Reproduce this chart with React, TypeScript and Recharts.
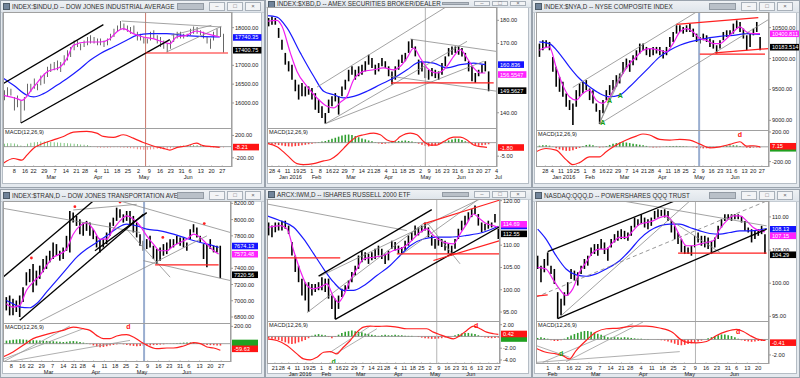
import React from "react";
import { Bar, Cell, ComposedChart, Line, ReferenceDot, ReferenceLine, XAxis, YAxis } from "recharts";

type Pt = [number, number];
type Seg = [number, number, number, number];
type Tag = [number, string, string];
type Note = [number, number, string, string];

const FONT = "'Liberation Sans', Arial, sans-serif";

// date axis labels
const FEB_JUN_DAYS = ["8", "16", "22", "29", "7", "14", "21", "28", "4", "11", "18", "25", "2", "9", "16", "23", "31", "6", "13", "20", "27"];
const FEB_JUN_MONTHS = ["Mar", "Apr", "May", "Jun"];
const DEC_JUL_DAYS = ["28", "4", "11", "19", "25", "1", "8", "16", "22", "29", "7", "14", "21", "28", "4", "11", "18", "25", "2", "9", "16", "23", "31", "6", "13", "20", "27", "4"];
const DEC_JUL_MONTHS = ["Jan 2016", "Feb", "Mar", "Apr", "May", "Jun", "Jul"];
const QQQ_DAYS = ["1", "8", "16", "22", "29", "7", "14", "21", "28", "4", "11", "18", "25", "2", "9", "16", "23", "31", "6", "13", "20"];
const QQQ_MONTHS = ["Feb", "Mar", "Apr", "May", "Jun"];

/* ---- $INDU ---- */
const INDU_HI = [16340, 16420, 16380, 16160, 16200, 16070, 16160, 16510, 16510, 16650, 16510, 16730, 16780, 16960, 17040, 17090, 17130, 17090, 17270, 17400, 17490, 17660, 17660, 17580, 17660, 17750, 17800, 17750, 17710, 17710, 17660, 17710, 17840, 17970, 18060, 18180, 18110, 18060, 18020, 18060, 17890, 17840, 17750, 17710, 17890, 17930, 17800, 17750, 17660, 17580, 17660, 17840, 17890, 17890, 17840, 17840, 17970, 18030, 18020, 17930, 17890, 17750, 17710, 17890, 17970, 18020, 17840];
const INDU_LO = [16070, 16160, 16200, 15800, 15890, 15470, 15800, 16200, 16290, 16380, 16340, 16470, 16510, 16690, 16820, 16870, 16870, 16820, 17000, 17130, 17220, 17400, 17490, 17400, 17490, 17530, 17580, 17580, 17530, 17530, 17490, 17530, 17660, 17750, 17890, 17970, 17930, 17890, 17840, 17840, 17660, 17660, 17580, 17580, 17660, 17710, 17580, 17490, 17440, 17350, 17440, 17620, 17710, 17710, 17710, 17750, 17800, 17840, 17840, 17800, 17710, 17580, 17440, 17660, 17750, 17750, 17340];
const INDU_PINK: Pt[] = [[1, 16204], [5, 16115], [6.5, 16071], [10, 16425], [14, 16823], [18, 16956], [20, 17177], [22, 17531], [26, 17619], [30, 17619], [33, 17708], [35, 17885], [37, 17973], [40, 17841], [43, 17752], [46, 17708], [49, 17619], [51, 17575], [53, 17752], [56, 17796], [59, 17911], [62, 17841], [64, 17796], [66, 17752]];
const INDU_BLUE: Pt[] = [[1, 16650], [4, 16470], [8, 16204], [10, 16160], [13, 16248], [17, 16469], [20, 16646], [24, 16911], [27, 17133], [30, 17310], [34, 17487], [38, 17664], [41, 17796], [45, 17841], [50, 17841], [55, 17796], [60, 17770], [66, 17752]];
const INDU_MACD: Pt[] = [[1, -291], [4, -212], [6.5, -242], [8, -152], [10, -30], [13, 61], [16, 121], [19, 182], [22, 261], [26, 273], [29, 242], [31, 182], [34, 164], [37, 212], [40, 152], [43, 73], [46, 12], [49, -30], [51, -61], [53, -18], [56, 12], [59, 61], [61, 18], [64, 0], [66, -12]];
const INDU_HIST = [50, 60, 60, 55, 40, 20, 10, 50, 70, 80, 85, 90, 90, 90, 85, 80, 75, 70, 65, 60, 55, 50, 45, 40, 35, 30, 10, -5, -15, -20, -20, -20, -15, -10, -10, -15, -20, -25, -30, -35, -45, -50, -55, -55, -50, -45, -40, -40, -45, -40, -30, -15, 5, 15, 20, 25, 25, 30, 30, 25, 20, 5, -10, -15, -10, -10, -15];
const INDU_TICKS = [18000, 17000, 16500, 16000];
const INDU_MACD_TICKS = [200, -200];
const INDU_DAY_POS = [4.2, 7.43, 10.01, 13.23, 16.46, 19.68, 22.91, 25.49, 28.71, 31.94, 35.17, 38.39, 41.61, 44.84, 48.06, 51.29, 54.51, 57.09, 60.32, 63.54, 66.77];
const INDU_MONTH_POS = [13.88, 28.07, 41.61, 55.16];
const INDU_BLACK: Seg[] = [[0.8, 16513, 31, 18080], [6.2, 15469, 51, 17681]];
const INDU_GREY: Seg[] = [[36.5, 18177, 66.5, 18018], [50, 17354, 66.5, 18035], [51.5, 17796, 63.5, 18062]];
const INDU_RED: Seg[] = [[43.7, 17327, 68.5, 17327]];
const INDU_TAGS: Tag[] = [[17740.35, "17740.35", "blue"], [17400.75, "17400.75", "black"]];
const INDU_MACD_TAGS: Tag[] = [[-8.21, "-8.21", "red"]];

/* ---- $XBD ---- */
const XBD_HI = [181, 181.7, 181, 176.7, 171.6, 165.9, 162.3, 160.8, 154.3, 152.2, 152.9, 151.4, 151.4, 150.7, 148.5, 145.7, 142.8, 139.9, 145.7, 147.1, 148.5, 147.1, 151.4, 154.3, 158.6, 160.1, 158.6, 160.1, 160.8, 162.3, 165.1, 163.7, 160.8, 161.5, 163.7, 162.3, 160.1, 157.9, 160.1, 163, 165.1, 165.9, 170.9, 171.9, 168.7, 163, 162.3, 160.1, 158.6, 159.4, 158.6, 157.9, 161.5, 164.4, 168, 168.7, 168.7, 168.7, 168, 165.9, 162.3, 160.1, 157.2, 158.6, 160.8, 162.3, 157.9];
const XBD_LO = [177.4, 178.1, 178.1, 172.4, 167.3, 160.8, 157.9, 154.3, 149.3, 145.7, 147.1, 147.1, 147.8, 145.7, 141.3, 139.9, 137.7, 135.3, 139.9, 142.8, 144.9, 139.2, 147.1, 150, 153.6, 156.5, 154.3, 155.8, 156.5, 157.9, 160.8, 159.4, 156.5, 157.9, 160.1, 159.4, 155.8, 152.2, 154.3, 158.6, 161.5, 162.3, 165.9, 168, 164.4, 156.5, 157.9, 155, 154.3, 155.8, 155, 154.3, 156.5, 160.1, 164.4, 165.1, 165.9, 165.1, 164.4, 162.3, 157.9, 153.6, 152.9, 155.8, 157.2, 157.9, 149.3];
const XBD_PINK: Pt[] = [[0, 179.6], [3, 180], [4.5, 177.4], [7, 165.9], [9, 157.9], [12, 151.4], [15, 146.4], [18, 142.8], [20, 142.1], [22, 144.5], [24, 147.1], [26, 154.3], [29, 157.9], [32, 158.6], [35, 159.4], [38, 158.6], [40, 160.1], [42, 163.7], [44, 168], [46, 163.7], [48, 159.4], [51, 157.2], [54, 160.1], [56, 164.4], [58, 167.3], [60, 163.7], [62, 159.4], [64, 157.2], [65.5, 157.2]];
const XBD_BLUE: Pt[] = [[0, 182], [3, 181.4], [6, 176.7], [10, 165.9], [14, 155.8], [17, 149.3], [20, 147.8], [23, 146.4], [26, 147.1], [30, 149.3], [34, 152.2], [38, 155], [42, 158.6], [46, 162], [50, 161.5], [54, 159.4], [58, 160.8], [62, 161.5], [65.5, 160.8]];
const XBD_MACD: Pt[] = [[0, -0.25], [3, -1.5], [6, -4.6], [9, -7.75], [11, -8.1], [14, -7.75], [17, -6.75], [19, -6.25], [21, -4.6], [23, -2.1], [25, 0.4], [27, 2.25], [29, 2.9], [32, 3.5], [34, 2.9], [36, 1], [38, 0.4], [40, 2.25], [43, 3.5], [45, 2.9], [47, 0.4], [49, -0.9], [51, -0.9], [53, 0.4], [56, 2], [58, 2], [60, 1], [62, -0.9], [64, -1.5], [66, -1.75]];
const XBD_HIST = [-0.4, -0.5, -0.7, -0.9, -1.1, -1.3, -1.4, -1.4, -1.3, -1.2, -1.0, -0.8, -0.6, -0.4, -0.2, 0.2, 0.4, 0.6, 1.0, 1.4, 1.8, 2.2, 2.6, 2.9, 3.0, 2.8, 2.4, 2.0, 1.5, 1.2, 0.8, 0.5, 0.2, -0.3, -0.5, -0.4, -0.2, 0.3, 0.5, 0.6, 0.7, 0.8, 0.6, 0.4, 0.2, -0.4, -0.8, -1.2, -1.4, -1.2, -1.0, -0.6, -0.2, 0.4, 0.8, 1.2, 1.5, 1.4, 1.0, 0.5, -0.2, -0.6, -1.0, -1.2, -1.0, -0.8, -0.6];
const XBD_TICKS = [180, 170, 140];
const XBD_MACD_TICKS = [-5];
const XBD_DAY_POS = [1.5, 3.57, 6.16, 8.75, 10.82, 13.41, 16.0, 18.59, 20.67, 23.26, 25.85, 28.44, 31.03, 33.1, 35.69, 38.28, 40.87, 43.46, 46.05, 48.64, 51.23, 53.82, 56.41, 58.48, 61.07, 63.66, 66.25, 68.84];
const XBD_MONTH_POS = [3.57, 13.41, 23.77, 35.17, 46.05, 56.93, 68.32];
const XBD_GREY: Seg[] = [[15, 151.1, 54, 186.06], [17.5, 135.27, 60, 170.9], [17.5, 135.27, 65, 162.25], [43, 171.9, 70, 166.3], [37, 155.8, 69, 149.3]];
const XBD_RED: Seg[] = [[37.2, 152.9, 68, 152.9]];
const XBD_TAGS: Tag[] = [[160.836, "160.836", "blue"], [156.5547, "156.5547", "pink"], [149.5627, "149.5627", "black"]];
const XBD_MACD_TAGS: Tag[] = [[-1.8, "-1.80", "red"]];

/* ---- $NYA ---- */
const NYA_HI = [10242, 10296, 10296, 10269, 10027, 9866, 9704, 9624, 9436, 9328, 9274, 9489, 9597, 9624, 9651, 9516, 9489, 9274, 9167, 9328, 9489, 9570, 9651, 9731, 9758, 9946, 10000, 9973, 10054, 10134, 10242, 10242, 10188, 10161, 10188, 10188, 10188, 10134, 10188, 10349, 10430, 10538, 10538, 10511, 10538, 10565, 10484, 10403, 10349, 10403, 10376, 10323, 10296, 10215, 10296, 10430, 10457, 10457, 10565, 10618, 10592, 10484, 10376, 10403, 10484, 10592, 10349];
const NYA_LO = [10027, 10134, 10188, 10134, 9785, 9543, 9462, 9382, 9220, 9167, 8925, 9220, 9382, 9436, 9489, 9328, 9274, 9140, 8941, 9113, 9328, 9409, 9489, 9543, 9597, 9758, 9839, 9785, 9893, 9973, 10081, 10134, 10054, 10027, 10054, 10081, 10054, 10000, 10054, 10188, 10269, 10403, 10430, 10403, 10430, 10430, 10349, 10269, 10242, 10296, 10269, 10188, 10161, 10081, 10161, 10296, 10349, 10376, 10403, 10484, 10430, 10323, 10134, 10188, 10376, 10430, 10134];
const NYA_PINK: Pt[] = [[2, 10134], [5, 10188], [7, 9866], [9, 9570], [11, 9382], [13, 9328], [15, 9436], [17, 9489], [19, 9328], [21, 9274], [23, 9382], [25, 9570], [27, 9758], [29, 9919], [31, 10027], [33, 10134], [35, 10161], [38, 10134], [40, 10108], [42, 10242], [44, 10430], [46, 10484], [48, 10430], [50, 10323], [52, 10296], [54, 10242], [56, 10242], [58, 10323], [60, 10430], [62, 10511], [64, 10430], [66, 10403], [68, 10403]];
const NYA_BLUE: Pt[] = [[2, 10269], [5, 10242], [8, 10081], [11, 9866], [14, 9677], [17, 9543], [20, 9436], [23, 9382], [26, 9409], [29, 9543], [32, 9704], [35, 9866], [38, 10027], [41, 10134], [44, 10215], [47, 10269], [50, 10306], [53, 10339], [56, 10360], [60, 10376], [64, 10403], [68, 10392]];
const NYA_MACD: Pt[] = [[1, -68], [4, -23], [7, -45], [10, -173], [12, -241], [14, -214], [17, -136], [20, -136], [22, -68], [25, 23], [28, 91], [31, 145], [33, 173], [35, 159], [38, 100], [41, 91], [44, 100], [47, 91], [50, 36], [53, -14], [56, 0], [59, 32], [62, 68], [64, 9], [66, 14], [68, 0]];
const NYA_HIST = [15, 20, 20, 15, 5, -20, -35, -45, -55, -55, -45, -30, -15, 10, 25, 30, 20, 5, -10, -5, 10, 25, 40, 50, 58, 60, 58, 50, 42, 35, 28, 20, 12, -5, -10, -8, -5, 5, 8, 10, 12, 12, 10, 8, 5, 2, -5, -12, -18, -22, -20, -15, -10, -5, 5, 10, 15, 18, 20, 18, 12, -5, -12, -15, -10, -8, -10];
const NYA_TICKS = [10500, 10000, 9500, 9000];
const NYA_MACD_TICKS = [200, -200];
const NYA_DAY_POS = [3.8, 5.87, 8.46, 11.05, 13.12, 15.71, 18.3, 20.89, 22.97, 25.56, 28.15, 30.74, 33.33, 35.4, 37.99, 40.58, 43.17, 45.76, 48.35, 50.94, 53.53, 56.12, 58.71, 60.78, 63.37, 65.96, 68.55];
const NYA_MONTH_POS = [5.87, 15.71, 26.07, 37.47, 48.35, 59.23];
const NYA_GREY: Seg[] = [[12, 9532, 49, 10753], [20, 8941, 70.5, 10629], [20, 8952, 28, 9893], [20, 8952, 26.5, 9785]];
const NYA_RED: Seg[] = [[43, 10554, 67.5, 10661], [50, 10070, 69.5, 10070], [54.5, 10091, 70.5, 10161]];
const NYA_NOTES: Note[] = [[21, 8962, "A", "green"], [23, 9317, "A", "green"], [26.2, 9409, "A", "green"]];
const NYA_MACD_NOTES: Note[] = [[62, 168, "d", "red"]];
const NYA_TAGS: Tag[] = [[10400.811, "10400.811", "pink"], [10183.514, "10183.514", "black"]];
const NYA_MACD_TAGS: Tag[] = [[-20, "", "green"], [7.15, "7.15", "red"]];

/* ---- $TRAN ---- */
const TRAN_HI = [7045, 7065, 7024, 7004, 7065, 7167, 7351, 7392, 7453, 7371, 7433, 7514, 7555, 7616, 7718, 7698, 7616, 7657, 7800, 8106, 8086, 8045, 8004, 7963, 7984, 7963, 7882, 7800, 7759, 7759, 7841, 7963, 8024, 8147, 8127, 8065, 8106, 8106, 8045, 7963, 7820, 7739, 7759, 7800, 7678, 7637, 7657, 7698, 7718, 7759, 7759, 7800, 7780, 7780, 7718, 7882, 7943, 7902, 7800, 7698, 7698, 7759, 7678, 7678, 7678];
const TRAN_LO = [6881, 6820, 6820, 6861, 6800, 6984, 7188, 7229, 7106, 7188, 7269, 7351, 7392, 7473, 7514, 7555, 7494, 7514, 7616, 7596, 7963, 7922, 7820, 7800, 7861, 7800, 7759, 7657, 7596, 7657, 7698, 7800, 7922, 7984, 8024, 7963, 7984, 7943, 7841, 7780, 7678, 7616, 7637, 7657, 7514, 7453, 7494, 7555, 7575, 7637, 7657, 7698, 7678, 7657, 7616, 7759, 7841, 7780, 7718, 7514, 7412, 7637, 7596, 7596, 7278];
const TRAN_PINK: Pt[] = [[2, 6963], [4, 6922], [6, 6943], [8, 7126], [10, 7229], [12, 7310], [14, 7433], [16, 7535], [18, 7575], [20, 7637], [22, 7820], [24, 7922], [26, 7963], [28, 7882], [30, 7759], [32, 7759], [34, 7882], [36, 7984], [38, 8045], [40, 8004], [42, 7922], [44, 7800], [46, 7698], [48, 7616], [50, 7616], [52, 7678], [54, 7718], [56, 7759], [58, 7820], [60, 7780], [62, 7698], [64, 7616], [65.5, 7575]];
const TRAN_BLUE: Pt[] = [[2, 7004], [4, 6963], [6, 6922], [9, 6914], [11, 6963], [14, 7106], [17, 7249], [20, 7392], [23, 7535], [26, 7637], [29, 7718], [32, 7800], [35, 7890], [38, 7943], [41, 7922], [44, 7882], [48, 7861], [52, 7820], [56, 7767], [60, 7718], [64, 7678], [65.5, 7657]];
const TRAN_MACD: Pt[] = [[1, -154], [4, -96], [7, -19], [10, 58], [13, 96], [16, 127], [19, 154], [22, 192], [25, 173], [27, 154], [29, 96], [31, 58], [33, 58], [35, 89], [38, 104], [40, 77], [42, 27], [44, -19], [47, -58], [50, -50], [52, -50], [55, -27], [58, 12], [60, 0], [62, -38], [64, -50], [66, -77]];
const TRAN_HIST = [35, 40, 45, 48, 50, 48, 45, 42, 40, 38, 36, 34, 32, 30, 28, 25, 22, 20, 22, 28, 30, 26, 20, 12, 5, -8, -20, -32, -40, -38, -30, -22, -15, -8, -4, -8, -14, -20, -26, -30, -28, -25, -22, -20, -17, -14, -11, -8, -5, -2, 3, 6, 9, 12, 14, 14, 11, 6, -4, -9, -14, -17, -18, -20, -22];
const TRAN_TICKS = [8200, 8000, 7800, 7400, 7200, 7000, 6800];
const TRAN_MACD_TICKS = [200];
const TRAN_DAY_POS = [3.5, 6.74, 9.32, 12.56, 15.79, 19.03, 22.26, 24.85, 28.09, 31.32, 34.56, 37.79, 41.03, 44.27, 47.5, 50.73, 53.97, 56.56, 59.79, 63.03, 66.26];
const TRAN_MONTH_POS = [13.21, 27.44, 41.03, 54.62];
const TRAN_BLACK: Seg[] = [[1, 7290, 28, 8229], [6, 6759, 43, 8065], [28.5, 7616, 44, 8086]];
const TRAN_GREY: Seg[] = [[1, 8139, 42, 7841], [36, 8229, 69, 7841], [43, 7494, 69, 7249], [38, 7882, 51, 7290], [22, 8118, 41, 8188], [12, 6747, 62, 7800]];
const TRAN_RED: Seg[] = [[46.5, 7441, 65.5, 7441]];
const TRAN_DOTS: Pt[] = [[9.5, 7527], [22.5, 8159], [36, 8216], [48.8, 7780], [61.2, 7951]];
const TRAN_MACD_GREY: Seg[] = [[1, -212, 21, 204], [1, -181, 25, 173], [1, -219, 39, 38]];
const TRAN_MACD_NOTES: Note[] = [[38.5, 200, "d", "red"]];
const TRAN_TAGS: Tag[] = [[7674.13, "7674.13", "blue"], [7573.48, "7573.48", "pink"], [7320.56, "7320.56", "black"]];
const TRAN_MACD_TAGS: Tag[] = [[8, "", "green"], [-59.63, "-59.63", "red"]];

/* ---- IWM ---- */
const IWM_HI = [115.1, 114.4, 115.1, 115.1, 115.5, 115.5, 114.4, 110.7, 107.7, 105.4, 102.5, 101.7, 101.7, 101.3, 101.3, 101.7, 102.8, 102.5, 102.5, 98.7, 98, 98.7, 100.2, 101, 102.1, 104, 105.4, 107.7, 108.8, 108.4, 108.1, 108.4, 109.2, 109.9, 109.2, 108.1, 108.8, 111, 110.7, 109.9, 109.6, 111, 112.2, 112.9, 114.4, 114, 114.4, 115.1, 114, 112.2, 111.4, 111.8, 111.4, 111, 110.3, 109.9, 111.4, 113.7, 115.5, 116.6, 117.4, 118.1, 118.9, 117, 115.1, 114.8, 115.5, 115.1, 117, 113.7];
const IWM_LO = [112.2, 111.8, 112.9, 113.3, 113.3, 113.7, 112.5, 107.7, 104, 101.7, 98.7, 97.6, 95, 98.7, 99.5, 99.9, 99.9, 99.5, 98, 95.7, 93.4, 95.7, 98.4, 99.5, 100.2, 101.7, 103.2, 104.7, 106.2, 106.6, 105.8, 106.6, 106.9, 107.7, 106.9, 105.8, 106.6, 109.2, 108.8, 108.1, 108.1, 108.8, 109.9, 111, 112.2, 112.2, 112.9, 113.3, 111.8, 109.9, 109.2, 109.9, 109.6, 108.8, 108.1, 107.7, 109.2, 111.4, 113.3, 114.4, 115.5, 116.3, 117, 114.4, 112.9, 113.3, 113.7, 114, 115.1, 111.4];
const IWM_PINK: Pt[] = [[0.5, 114.03], [4, 114.4], [6, 113.66], [8, 108.8], [10, 104.3], [12, 101], [14, 100.2], [16, 100.6], [18, 101.3], [20, 98.4], [21.5, 97.2], [23, 98.7], [25, 102.1], [27, 104.7], [29, 106.9], [32, 107.3], [35, 107.7], [38, 108.8], [41, 109.55], [43, 110.7], [46, 112.9], [48, 113.66], [50, 112.2], [53, 110.7], [56, 110.3], [58, 112.5], [60, 114.8], [62, 117], [64, 115.9], [66, 114.8], [68, 114.4], [69.5, 114.03]];
const IWM_BLUE: Pt[] = [[0, 116.6], [4, 115.5], [8, 114.03], [11, 111.4], [14, 108.1], [17, 104.7], [20, 101.7], [23, 99.85], [26, 99.85], [29, 100.9], [33, 103.2], [37, 105.45], [40, 107.7], [43, 109.9], [47, 111.4], [51, 111.8], [55, 111.8], [60, 112.2], [65, 112.9], [69.5, 114.25]];
const IWM_MACD: Pt[] = [[0, -0.4], [3, -0.69], [6, -1.54], [9, -2.97], [11, -3.83], [13, -4], [15, -3.54], [17, -2.69], [19, -2.57], [21, -2.97], [22.5, -2.11], [25, -0.69], [27, 0.74], [29, 1.6], [31, 1.77], [33, 1.71], [36, 1.77], [39, 1.6], [42, 1.31], [45, 1.31], [48, 1.31], [50, 0.74], [52, 0.29], [54, -0.11], [56, -0.4], [58, 0.17], [60, 1.03], [62, 1.77], [64, 1.31], [66, 0.74], [68, 0.46], [69.5, 0.34]];
const IWM_HIST = [-0.3, -0.4, -0.5, -0.6, -0.8, -1.0, -1.2, -1.3, -1.2, -1.0, -0.8, -0.6, -0.3, 0.1, 0.3, 0.4, 0.3, 0.2, -0.1, -0.3, -0.1, 0.3, 0.6, 0.8, 0.9, 1.0, 0.9, 0.8, 0.7, 0.5, 0.4, 0.3, 0.2, 0.1, 0.2, 0.3, 0.2, 0.2, 0.3, 0.2, 0.2, 0.1, 0.1, 0.1, 0, -0.1, -0.2, -0.3, -0.35, -0.4, -0.4, -0.35, -0.3, -0.2, -0.1, 0, 0.2, 0.4, 0.5, 0.6, 0.6, 0.5, 0.4, 0.2, -0.1, -0.2, -0.25, -0.3, -0.25, -0.2];
const IWM_TICKS = [120, 110, 105, 100, 95];
const IWM_MACD_TICKS = [2, -2, -4];
const IWM_DAY_POS = [2.38, 4.45, 6.52, 9.11, 11.7, 13.77, 16.36, 18.95, 21.54, 23.62, 26.21, 28.8, 31.39, 33.98, 36.05, 38.64, 41.23, 43.82, 46.41, 49.0, 51.59, 54.18, 56.77, 59.36, 61.43, 64.02, 66.61, 69.2];
const IWM_MONTH_POS = [6.52, 16.36, 26.72, 38.12, 49.0, 59.88];
const IWM_BLACK: Seg[] = [[15.5, 103.06, 49.5, 117.99], [20.5, 93.36, 70, 114.18]];
const IWM_GREY: Seg[] = [[0, 119.25, 42, 113.28], [12, 94.85, 47.5, 115.15], [16, 103.06, 64, 120.37], [40, 107.69, 63, 120], [48, 115.15, 58, 105.82]];
const IWM_RED: Seg[] = [[0, 107.16, 22, 107.16], [47, 114.78, 70, 120.15], [50, 106.57, 70, 111.04], [39, 108.06, 70, 108.06]];
const IWM_MACD_GREY: Seg[] = [[19, -2.69, 31, 1.77], [20.5, -2.97, 33, 1.31]];
const IWM_MACD_NOTES: Note[] = [[20, -4.2, "d", "green"], [62.8, 1.89, "d", "red"]];
const IWM_TAGS: Tag[] = [[114.31, "", "blue"], [114.69, "114.69", "pink"], [112.55, "112.55", "black"]];
const IWM_MACD_TAGS: Tag[] = [[-0.35, "", "green"], [0.42, "0.42", "red"]];

/* ---- QQQ ---- */
const QQQ_HI = [104.15, 102.65, 103.65, 104.65, 102.65, 102.15, 98.65, 97.65, 98.65, 100.15, 102.15, 101.9, 101.65, 102.65, 103.65, 104.15, 105.4, 105.9, 105.9, 106.65, 106.15, 105.4, 106.65, 107.4, 107.9, 108.15, 107.9, 107.65, 108.65, 109.9, 109.65, 110.4, 109.9, 109.65, 109.9, 110.9, 111.15, 111.05, 111.15, 110.9, 109.4, 108.65, 107.65, 106.65, 105.65, 105.4, 105.65, 107.15, 107.65, 107.15, 107.15, 106.9, 106.4, 106.9, 108.65, 109.65, 110.4, 110.4, 110.4, 110.4, 110.4, 110.15, 109.4, 108.4, 108.15, 107.9, 108.15, 108.65, 107.4];
const QQQ_LO = [102.15, 100.15, 101.65, 102.65, 101.4, 99.9, 94.65, 95.15, 96.65, 98.15, 100.65, 100.4, 99.65, 101.4, 102.15, 102.65, 104.15, 104.4, 104.15, 105.15, 104.4, 103.4, 105.4, 106.15, 106.4, 106.65, 106.65, 106.4, 107.15, 108.4, 108.65, 108.9, 108.4, 108.15, 108.65, 109.65, 109.9, 110.15, 109.9, 109.4, 107.65, 106.65, 105.9, 104.65, 104.4, 104.4, 104.15, 105.4, 106.15, 105.65, 105.4, 105.15, 104.4, 105.4, 106.65, 108.4, 109.4, 109.65, 109.4, 109.65, 109.65, 109.15, 107.9, 107.65, 106.15, 106.65, 107.15, 107.4, 104.4];
const QQQ_PINK: Pt[] = [[1.5, 102.4], [4, 102.15], [6, 100.65], [8, 99.15], [10, 98.15], [12, 99.15], [14, 101.65], [16, 103.15], [18, 104.65], [20, 105.15], [22, 105.15], [24, 106.15], [26, 106.9], [28, 106.9], [30, 107.9], [32, 108.9], [34, 109.15], [36, 109.4], [38, 109.9], [40, 110.15], [42, 109.15], [44, 107.15], [46, 105.65], [48, 105.65], [50, 105.9], [52, 106.15], [54, 106.4], [56, 108.15], [58, 109.4], [60, 110.15], [62, 110.15], [64, 109.4], [66, 108.4], [68, 107.9], [69.5, 107.75]];
const QQQ_BLUE: Pt[] = [[1.5, 108.15], [4, 106.65], [7, 104.15], [10, 102.15], [13, 101.25], [16, 101.05], [19, 101.4], [22, 102.15], [26, 103.4], [29, 104.9], [32, 106.65], [35, 107.9], [38, 108.65], [41, 108.9], [44, 108.9], [47, 108.4], [50, 107.9], [53, 107.5], [56, 107.4], [59, 107.65], [62, 107.9], [65, 107.9], [68, 108.05], [70, 108.25]];
const QQQ_MACD: Pt[] = [[1, -1.13], [4, -1.65], [7, -1.87], [9, -2.09], [11, -2.52], [13, -1.43], [16, -0.13], [19, 0.96], [22, 1.39], [26, 1.48], [30, 1.74], [34, 1.74], [38, 1.48], [42, 0.87], [44, 0.09], [46, -0.35], [49, -0.43], [52, -0.26], [55, 0.52], [58, 1.04], [61, 1.3], [63, 1.04], [65, 0.52], [67, 0.09], [69.5, -0.13]];
const QQQ_HIST = [0.2, 0.3, 0.2, 0.1, -0.1, -0.2, -0.2, -0.1, 0.1, 0.3, 0.5, 0.7, 0.85, 1.0, 1.1, 1.1, 1.0, 0.9, 0.75, 0.6, 0.45, 0.3, 0.25, 0.3, 0.3, 0.25, 0.3, 0.25, 0.2, 0.15, 0.1, 0.1, 0.05, 0.05, 0, 0, -0.05, -0.1, -0.15, -0.25, -0.4, -0.55, -0.7, -0.75, -0.7, -0.6, -0.5, -0.4, -0.25, -0.15, 0, 0.15, 0.3, 0.45, 0.55, 0.65, 0.65, 0.55, 0.45, 0.3, 0.1, -0.1, -0.2, -0.25, -0.3, -0.25, -0.2, -0.2, -0.15];
const QQQ_TICKS = [110, 105, 100, 95];
const QQQ_MACD_TICKS = [-2];
const QQQ_DAY_POS = [4.5, 7.75, 10.99, 13.59, 16.83, 20.08, 23.32, 26.57, 29.16, 32.41, 35.65, 38.9, 42.14, 45.39, 48.63, 51.88, 55.12, 58.37, 60.96, 64.21, 67.45];
const QQQ_MONTH_POS = [4.5, 17.48, 31.76, 45.39, 59.02];
const QQQ_BLACK: Seg[] = [[4.5, 104.75, 42.5, 112.4], [7.5, 94.65, 70, 108.15]];
const QQQ_GREY: Seg[] = [[7.5, 94.65, 47, 112.4], [27, 112.4, 70, 108.65], [40, 109.9, 56, 104.65]];
const QQQ_DASH: Seg[] = [[1, 97.9, 70, 112.4]];
const QQQ_RED: Seg[] = [[43.5, 104.55, 70, 104.55], [1, 98.05, 4.5, 98.25]];
const QQQ_MACD_GREY: Seg[] = [[1, -2.96, 44, -1.57], [10, -2.87, 33, 2.26], [3, -2.96, 30, 2.04], [1, -0.78, 11, -2.3]];
const QQQ_MACD_NOTES: Note[] = [[8.5, -1.83, "d", "green"], [61.5, 1.04, "d", "red"]];
const QQQ_TAGS: Tag[] = [[108.13, "108.13", "blue"], [107.15, "107.15", "pink"], [104.29, "104.29", "black"]];
const QQQ_MACD_TAGS: Tag[] = [[-0.41, "-0.41", "red"]];

const PINK = "#f01ef0";
const BLUE = "#1a1aff";
const RED = "#ff2020";
const GREY = "#8c8c8c";

const TAG_COLORS: Record<string, string> = {
  blue: "#1414ff",
  pink: "#ff22ff",
  black: "#000000",
  red: "#ff1414",
  green: "#20a020",
};
const NOTE_COLORS: Record<string, string> = { green: "#10a010", red: "#ff1010" };

const W = 266;

const PANELS = [
  {
    title: "INDEX:$INDU,D -- DOW JONES INDUSTRIAL AVERAGE",
    frame: [0, 0, 265, 188], ox: 0, l: 3, r: 232, top: 12, mid: 128, bottom: 167,
    xDomain: [0.8, 69.7], priceDomain: [15336, 18416], macdDomain: [-364, 333], barStart: 1.2,
    hi: INDU_HI, lo: INDU_LO, pink: INDU_PINK, blue: INDU_BLUE, macd: INDU_MACD, hist: INDU_HIST,
    priceTicks: INDU_TICKS, macdTicks: INDU_MACD_TICKS,
    days: FEB_JUN_DAYS, dayPos: INDU_DAY_POS, months: FEB_JUN_MONTHS, monthPos: INDU_MONTH_POS,
    black: INDU_BLACK, grey: INDU_GREY, red: INDU_RED, dash: [] as Seg[], macdGrey: [] as Seg[],
    vline: 43.7, vColor: "#c9786c", vWidth: 1,
    tags: INDU_TAGS, macdTags: INDU_MACD_TAGS, dots: [] as Pt[], notes: [] as Note[], macdNotes: [] as Note[],
  },
  {
    title: "INDEX:$XBD,D -- AMEX SECURITIES BROKER/DEALER",
    frame: [265, -1, 267, 189], ox: 267, l: 0, r: 230, top: 7, mid: 128, bottom: 167,
    xDomain: [0, 69], priceDomain: [133.4, 185.77], macdDomain: [-9, 5.4], barStart: 0.5,
    hi: XBD_HI, lo: XBD_LO, pink: XBD_PINK, blue: XBD_BLUE, macd: XBD_MACD, hist: XBD_HIST,
    priceTicks: XBD_TICKS, macdTicks: XBD_MACD_TICKS,
    days: DEC_JUL_DAYS, dayPos: XBD_DAY_POS, months: DEC_JUL_MONTHS, monthPos: XBD_MONTH_POS,
    black: [] as Seg[], grey: XBD_GREY, red: XBD_RED, dash: [] as Seg[], macdGrey: [] as Seg[],
    vline: 47.5, vColor: "#b4b4b4", vWidth: 1,
    tags: XBD_TAGS, macdTags: XBD_MACD_TAGS, dots: [] as Pt[], notes: [] as Note[], macdNotes: [] as Note[],
  },
  {
    title: "INDEX:$NYA,D -- NYSE COMPOSITE INDEX",
    frame: [532, 0, 268, 188], ox: 533, l: 3, r: 236, top: 12, mid: 130, bottom: 167,
    xDomain: [1, 70.7], priceDomain: [8844, 10753], macdDomain: [-273, 227], barStart: 2,
    hi: NYA_HI, lo: NYA_LO, pink: NYA_PINK, blue: NYA_BLUE, macd: NYA_MACD, hist: NYA_HIST,
    priceTicks: NYA_TICKS, macdTicks: NYA_MACD_TICKS,
    days: DEC_JUL_DAYS.slice(0, 27), dayPos: NYA_DAY_POS, months: DEC_JUL_MONTHS.slice(0, 6), monthPos: NYA_MONTH_POS,
    black: [] as Seg[], grey: NYA_GREY, red: NYA_RED, dash: [] as Seg[], macdGrey: [] as Seg[],
    vline: 49.8, vColor: "#9aaed0", vWidth: 2,
    tags: NYA_TAGS, macdTags: NYA_MACD_TAGS, dots: [] as Pt[], notes: NYA_NOTES, macdNotes: NYA_MACD_NOTES,
  },
  {
    title: "INDEX:$TRAN,D -- DOW JONES TRANSPORTATION AVE",
    frame: [0, 189, 265, 189], ox: 0, l: 3, r: 231, top: 201, mid: 323, bottom: 362,
    xDomain: [1, 69.2], priceDomain: [6726, 8229], macdDomain: [-212, 239], barStart: 2,
    hi: TRAN_HI, lo: TRAN_LO, pink: TRAN_PINK, blue: TRAN_BLUE, macd: TRAN_MACD, hist: TRAN_HIST,
    priceTicks: TRAN_TICKS, macdTicks: TRAN_MACD_TICKS,
    days: FEB_JUN_DAYS, dayPos: TRAN_DAY_POS, months: FEB_JUN_MONTHS, monthPos: TRAN_MONTH_POS,
    black: TRAN_BLACK, grey: TRAN_GREY, red: TRAN_RED, dash: [] as Seg[], macdGrey: TRAN_MACD_GREY,
    vline: 43.2, vColor: "#9aaed0", vWidth: 2,
    tags: TRAN_TAGS, macdTags: TRAN_MACD_TAGS, dots: TRAN_DOTS, notes: [] as Note[], macdNotes: TRAN_MACD_NOTES,
  },
  {
    title: "ARCX:IWM,D -- ISHARES RUSSELL 2000 ETF",
    frame: [265, 189, 267, 189], ox: 267, l: 0, r: 233, top: 199, mid: 321, bottom: 364,
    xDomain: [0, 70], priceDomain: [92.99, 120.37], macdDomain: [-4.69, 2.63], barStart: 0.5,
    hi: IWM_HI, lo: IWM_LO, pink: IWM_PINK, blue: IWM_BLUE, macd: IWM_MACD, hist: IWM_HIST,
    priceTicks: IWM_TICKS, macdTicks: IWM_MACD_TICKS,
    days: ["21", ...DEC_JUL_DAYS.slice(0, 27)], dayPos: IWM_DAY_POS, months: DEC_JUL_MONTHS.slice(0, 6), monthPos: IWM_MONTH_POS,
    black: IWM_BLACK, grey: IWM_GREY, red: IWM_RED, dash: [] as Seg[], macdGrey: IWM_MACD_GREY,
    vline: 51, vColor: "#b4b4b4", vWidth: 1,
    tags: IWM_TAGS, macdTags: IWM_MACD_TAGS, dots: [] as Pt[], notes: [] as Note[], macdNotes: IWM_MACD_NOTES,
  },
  {
    title: "NASDAQ:QQQ,D -- POWERSHARES QQQ TRUST",
    frame: [532, 189, 268, 189], ox: 533, l: 3, r: 236, top: 201, mid: 321, bottom: 364,
    xDomain: [1, 70.7], priceDomain: [94.3, 112.4], macdDomain: [-3.17, 2.39], barStart: 1.5,
    hi: QQQ_HI, lo: QQQ_LO, pink: QQQ_PINK, blue: QQQ_BLUE, macd: QQQ_MACD, hist: QQQ_HIST,
    priceTicks: QQQ_TICKS, macdTicks: QQQ_MACD_TICKS,
    days: QQQ_DAYS, dayPos: QQQ_DAY_POS, months: QQQ_MONTHS, monthPos: QQQ_MONTH_POS,
    black: QQQ_BLACK, grey: QQQ_GREY, red: QQQ_RED, dash: QQQ_DASH, macdGrey: QQQ_MACD_GREY,
    vline: 48.7, vColor: "#b4b4b4", vWidth: 1,
    tags: QQQ_TAGS, macdTags: QQQ_MACD_TAGS, dots: [] as Pt[], notes: [] as Note[], macdNotes: QQQ_MACD_NOTES,
  },
];

type PanelDef = (typeof PANELS)[number];

const fmt = (v: number) => v.toFixed(2);
const toXY = (a: Pt[]) => a.map(([x, y]) => ({ x, y }));
const axisTick = { fontSize: 5.6, fill: "#222", fontFamily: FONT };

const TagLabel = (props: any) => {
  const { viewBox, text, kind } = props;
  if (!viewBox) return null;
  const x = viewBox.x + viewBox.width + 1;
  const y = viewBox.y;
  const w = Math.max(26, 4 + text.length * 3.05);
  return (
    <g>
      <rect x={x} y={y - 3.3} width={w} height={6.6} fill={TAG_COLORS[kind]} />
      {text && (
        <text x={x + 2} y={y + 2} fontSize={5.6} fill="#fff" fontFamily={FONT}>
          {text}
        </text>
      )}
    </g>
  );
};

const DateTick = (props: any) => {
  const { x, y, payload, days, dayPos, months, monthPos } = props;
  const di = dayPos.indexOf(payload.value);
  const mi = monthPos.indexOf(payload.value);
  return (
    <g>
      {di >= 0 && (
        <>
          <line x1={x} x2={x} y1={y - 1.5} y2={y} stroke="#666" strokeWidth={0.6} />
          <text x={x} y={y + 6.2} textAnchor="middle" fontSize={5.6} fill="#222" fontFamily={FONT}>
            {days[di]}
          </text>
        </>
      )}
      {mi >= 0 && (
        <text x={x} y={y + 12} textAnchor="start" fontSize={5.6} fill="#222" fontFamily={FONT}>
          {months[mi]}
        </text>
      )}
    </g>
  );
};

const seg = (s: Seg, key: string, stroke: string, width: number, dash?: string) => (
  <ReferenceLine
    key={key}
    segment={[{ x: s[0], y: s[1] }, { x: s[2], y: s[3] }]}
    stroke={stroke}
    strokeWidth={width}
    strokeDasharray={dash}
    ifOverflow="hidden"
  />
);

const tag = (t: Tag, key: string) => (
  <ReferenceLine key={key} y={t[0]} stroke="none" ifOverflow="visible" label={<TagLabel text={t[1]} kind={t[2]} />} />
);

const note = (n: Note, key: string) => (
  <ReferenceDot
    key={key}
    x={n[0]}
    y={n[1]}
    r={2}
    ifOverflow="visible"
    shape={(sp: any) => (
      <text x={sp.cx} y={sp.cy + 2.5} textAnchor="middle" fontSize={7} fontWeight="bold" fill={NOTE_COLORS[n[3]]} fontFamily={FONT}>
        {n[2]}
      </text>
    )}
  />
);

function Frame({ p }: { p: PanelDef }) {
  const [fx, fy, fw, fh] = p.frame;
  const th = p.top - fy - 1;
  return (
    <div
      style={{
        position: "absolute", left: fx, top: fy, width: fw, height: fh, background: "#e4e9ee",
        border: "1px solid #9aa3ad", boxSizing: "border-box", overflow: "hidden",
      }}
    >
      <div
        style={{
          position: "absolute", left: 1, top: th, right: 2, bottom: 3, background: "#fff",
          borderLeft: "1px solid #b5bdc5", borderRight: "1px solid #b5bdc5", borderBottom: "1px solid #b5bdc5",
        }}
      />
      <div
        style={{
          position: "absolute", left: 0, top: 0, right: 0, height: th,
          background: "linear-gradient(#eef1f4,#dfe5eb)", borderBottom: "1px solid #c5ccd3",
        }}
      >
        <div style={{ position: "absolute", left: 2, top: Math.max(0.5, th / 2 - 3.5), width: 7, height: 7, background: "#71849a", border: "1px solid #4d5b68", boxSizing: "border-box" }} />
        <div
          style={{
            position: "absolute", left: 11, top: 0, width: 200, height: th, lineHeight: th + "px",
            fontSize: 6.3, color: "#303030", whiteSpace: "nowrap",
          }}
        >
          {p.title}
        </div>
        <div style={{ position: "absolute", left: 176, top: 2, width: 27, height: th - 4, background: "#b9c0c8", border: "1px solid #939ba4", boxSizing: "border-box" }} />
        {["–", "□", "×"].map((s, i) => (
          <div
            key={s}
            style={{
              position: "absolute", left: 208 + i * 18, top: 1, width: 16, height: th - 2,
              border: "1px solid #a9b1ba", background: "#f3f4f6", boxSizing: "border-box",
              fontSize: 6, lineHeight: th - 4 + "px", textAlign: "center", color: "#666",
            }}
          >
            {s}
          </div>
        ))}
      </div>
    </div>
  );
}

function Panel({ p }: { p: PanelDef }) {
  const priceH = p.mid - p.top;
  const macdH = p.bottom - p.mid + 14;
  const bars = p.hi.map((h, i) => ({ x: p.barStart + i, r: [p.lo[i], h] }));
  const hist = p.hist.map((h, i) => ({ x: p.barStart + i, h }));
  const xTicks = Array.from(new Set([...p.dayPos, ...p.monthPos])).sort((a, b) => a - b);
  const margin = { top: 0, right: 0, bottom: 0, left: p.l };
  const yW = W - p.r;

  return (
    <>
      <Frame p={p} />
      <div style={{ position: "absolute", left: p.ox, top: p.top, width: W, height: priceH }}>
        <ComposedChart width={W} height={priceH} data={bars} margin={margin}>
          <XAxis type="number" dataKey="x" domain={p.xDomain} allowDataOverflow hide />
          <YAxis
            type="number" orientation="right" domain={p.priceDomain} allowDataOverflow ticks={p.priceTicks}
            interval={0} width={yW} tickFormatter={fmt} tick={axisTick} tickSize={2} tickMargin={1} stroke="#9a9a9a"
          />
          <ReferenceLine x={p.vline} stroke={p.vColor} strokeWidth={p.vWidth} ifOverflow="hidden" />
          <Bar dataKey="r" barSize={1.6} fill="#000" isAnimationActive={false} />
          <Line data={toXY(p.blue)} dataKey="y" type="monotone" stroke={BLUE} strokeWidth={1.2} dot={false} isAnimationActive={false} />
          <Line data={toXY(p.pink)} dataKey="y" type="monotone" stroke={PINK} strokeWidth={1.2} dot={false} isAnimationActive={false} />
          {p.grey.map((s, i) => seg(s, "g" + i, GREY, 0.8))}
          {p.dash.map((s, i) => seg(s, "d" + i, GREY, 0.9, "4 3"))}
          {p.black.map((s, i) => seg(s, "b" + i, "#000", 1.3))}
          {p.red.map((s, i) => seg(s, "r" + i, RED, 1.2))}
          {p.dots.map((d, i) => (
            <ReferenceDot key={"dot" + i} x={d[0]} y={d[1]} r={1.4} fill={RED} stroke="none" ifOverflow="visible" />
          ))}
          {p.notes.map((n, i) => note(n, "n" + i))}
          {p.tags.map((t, i) => tag(t, "t" + i))}
        </ComposedChart>
      </div>
      <div style={{ position: "absolute", left: p.ox, top: p.mid, width: W, height: macdH }}>
        <ComposedChart width={W} height={macdH} data={hist} margin={margin}>
          <XAxis
            type="number" dataKey="x" domain={p.xDomain} allowDataOverflow ticks={xTicks} interval={0}
            height={14} tickLine={false} axisLine={false} tickSize={0} tickMargin={0}
            tick={<DateTick days={p.days} dayPos={p.dayPos} months={p.months} monthPos={p.monthPos} />}
          />
          <YAxis
            type="number" orientation="right" domain={p.macdDomain} allowDataOverflow ticks={p.macdTicks}
            interval={0} width={yW} tickFormatter={fmt} tick={axisTick} tickSize={2} tickMargin={1} stroke="#9a9a9a"
          />
          <ReferenceLine y={0} stroke="#8a8a8a" strokeWidth={0.8} />
          <ReferenceLine x={p.vline} stroke={p.vColor} strokeWidth={p.vWidth} ifOverflow="hidden" />
          <Bar dataKey="h" barSize={1.6} isAnimationActive={false}>
            {p.hist.map((v, i) => (
              <Cell key={i} fill={v >= 0 ? "#2f9f2f" : "#ff3a3a"} />
            ))}
          </Bar>
          {p.macdGrey.map((s, i) => seg(s, "mg" + i, "#9a9a9a", 0.8))}
          <Line data={toXY(p.macd)} dataKey="y" type="monotone" stroke={RED} strokeWidth={1.2} dot={false} isAnimationActive={false} />
          {p.macdNotes.map((n, i) => note(n, "mn" + i))}
          {p.macdTags.map((t, i) => tag(t, "mt" + i))}
        </ComposedChart>
      </div>
      <div
        style={{
          position: "absolute", left: p.ox + p.l, top: p.top, width: p.r - p.l, height: p.bottom - p.top,
          border: "1px solid #a0a0a0", boxSizing: "border-box", pointerEvents: "none",
        }}
      />
      <div style={{ position: "absolute", left: p.ox + p.l, top: p.mid - 0.5, width: p.r - p.l, height: 1, background: "#a0a0a0" }} />
      <div style={{ position: "absolute", left: p.ox + p.l + 2, top: p.mid + 1, fontSize: 5.6, color: "#222", whiteSpace: "nowrap" }}>
        MACD(12,26,9)
      </div>
    </>
  );
}

export default function App() {
  return (
    <div
      style={{
        position: "absolute", left: 0, top: 0, width: 800, height: 378, overflow: "hidden",
        background: "#d3dae2", fontFamily: FONT,
      }}
    >
      {PANELS.map((p) => (
        <Panel key={p.title} p={p} />
      ))}
    </div>
  );
}
